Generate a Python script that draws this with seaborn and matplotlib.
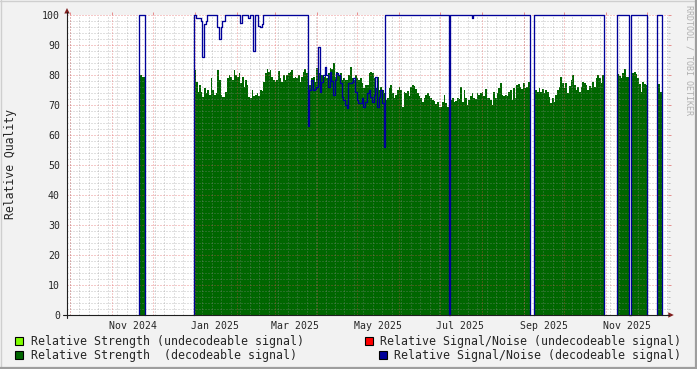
import numpy as np
import pandas as pd
import matplotlib
matplotlib.use("Agg")
import matplotlib.pyplot as plt
import matplotlib.dates as mdates
from matplotlib.patches import Rectangle, Polygon
from matplotlib.lines import Line2D
import seaborn as sns

# ---------------- data ----------------
block_start = ["2024-11-21 02:00", "2024-12-31 14:00", "2025-02-10 19:00", "2025-03-25 10:00",
               "2025-05-21 19:00", "2025-07-27 02:00", "2025-09-08 05:00", "2025-11-09 05:00",
               "2025-12-08 19:00"]
block_end = ["2024-11-25 05:00", "2025-02-10 19:00", "2025-03-25 10:00", "2025-05-21 19:00",
             "2025-07-27 02:00", "2025-09-05 10:00", "2025-10-30 10:00", "2025-12-01 10:00",
             "2025-12-12 02:00"]

strength_nov24 = [80, 80, 79.5, 79.5]
snr_nov24 = [100, 100, 100, 100]

strength_jan25 = [81.7, 77.8, 74.4, 76.7, 74.4, 72.8, 75.6, 73.9, 75, 73.3, 78.9, 75, 73.3, 73.9,
                  81.7, 78.3, 73.3, 72.8, 72.8, 74.4, 78.9, 80, 79.4, 78.3, 81.7, 80, 79.4, 80.6,
                  77.2, 79.4, 76.1, 78.3, 76.7, 72.8]
snr_jan25 = [100, 99, 99, 99, 98, 86, 97, 98, 100, 100, 100, 100, 100, 100, 96, 92, 96, 98, 98,
             100, 100, 100, 100, 100, 100, 100, 100, 100, 97.5, 100, 100, 100, 100, 99]

strength_feb25 = [72.5, 75, 73, 73.3, 73.9, 73, 75, 74.8, 77.8, 80.6, 81.9, 81.1, 81.7, 79.4, 78.3,
                  77.8, 78.3, 81.4, 78.9, 77.8, 80, 78.3, 80, 80.6, 81.1, 81.7, 78.9, 79.4, 78.9,
                  80, 77.8, 79.4, 81.1, 81.9, 80.6]
snr_feb25 = [100, 100, 88, 100, 100, 96.5, 96, 97, 100, 100, 100, 100, 100, 100, 100, 100, 100,
             100, 100, 100, 100, 100, 100, 100, 100, 100, 100, 100, 100, 100, 100, 100, 100, 100, 100]

strength_apr25 = [80, 76.7, 78.9, 79.4, 77.8, 82.2, 80.6, 78.9, 80, 79.4, 81.7, 78.9, 80.6, 82.2,
                  81.9, 83.9, 79.4, 81.1, 79.7, 80.6, 78.3, 78.9, 78.3, 78.3, 80, 82.8, 78.9, 78.3,
                  80, 78.9, 78.3, 78.9, 77.2, 75.6, 76.7, 76.7, 80.6, 81.1, 80.6, 78.9, 75.6, 79.4,
                  75, 76.1, 75, 73.9]
snr_apr25 = [63, 75, 78.3, 75, 75.5, 76, 89.2, 74.4, 77.8, 80, 82.8, 80, 76.1, 81.1, 78, 73.3, 78.3,
             80.6, 80, 77.2, 72.8, 71.7, 70, 68.9, 77.2, 77.2, 77.8, 78.9, 74.4, 71.7, 70.6, 70.6,
             72.2, 69.4, 71.1, 73.9, 75, 72.8, 71.1, 73.3, 79.4, 69.4, 72.8, 75, 70.6, 56]

strength_jun25 = [71.7, 72.2, 75.6, 76.7, 73.9, 72.5, 73.3, 75, 75.9, 75, 69.4, 74.4, 73.9, 74.8, 73,
                  76.1, 76.7, 76.3, 75.2, 74.1, 73, 72.5, 71.1, 72.2, 73.3, 74.1, 73, 72.5, 71.7,
                  71.4, 70.3, 71.1, 69.4, 69.2, 71.1, 73.3, 70.6, 69.4, 0, 71.7, 72.5, 71.1, 71.4,
                  72.5, 71.9, 75.9, 71.1, 75, 72.2, 70, 71.7, 73, 73.9, 72.2]
snr_jun25 = [100, 100, 100, 100, 100, 100, 100, 100, 100, 100, 100, 100, 100, 100, 100, 100, 100,
             100, 100, 100, 100, 100, 100, 100, 100, 100, 100, 100, 100, 100, 100, 100, 100, 100,
             100, 100, 100, 100, 0, 100, 100, 100, 100, 100, 100, 100, 100, 100, 100, 100, 100, 100,
             99, 100]

strength_aug25 = [71.9, 73.9, 73.3, 73.9, 74.4, 73, 75.2, 72.5, 72.2, 71.7, 70, 74.4, 72.2, 73.9,
                  75.6, 77.2, 73.3, 73, 73.3, 73, 74.4, 75, 71.7, 75.6, 72.5, 76.7, 77, 76.1, 75.2,
                  77.5, 75.6, 76.1, 77.8]
snr_aug25 = [100, 100, 100, 100, 100, 100, 100, 100, 100, 100, 100, 100, 100, 100, 100, 100, 100,
             100, 100, 100, 100, 100, 100, 100, 100, 100, 100, 100, 100, 100, 100, 100, 100]

strength_sep25 = [75.9, 75, 74.4, 75.6, 74.4, 75.2, 73.9, 75, 74.4, 72.8, 70.6, 72.5, 71.1, 73.3, 75,
                  76.1, 79.4, 77.2, 75.6, 77.2, 73.9, 76.3, 78.3, 80, 76.7, 75, 76.1, 74.4, 75.9,
                  77.8, 77.2, 76.7, 75, 76.3, 75.6, 77.8, 75.9, 78.9, 80, 78.9, 77.2, 80]
snr_sep25 = [100, 100, 100, 100, 100, 100, 100, 100, 100, 100, 100, 100, 100, 100, 100, 100, 100,
             100, 100, 100, 100, 100, 100, 100, 100, 100, 100, 100, 100, 100, 100, 100, 100, 100,
             100, 100, 100, 100, 100, 100, 100, 100]

strength_nov25 = [80.3, 79.7, 78.9, 80.6, 81.9, 79.4, 79.4, 0, 81.1, 80.6, 81.1, 80.3, 78.9, 77, 74.4,
                  77.8, 77, 76.7]
snr_nov25 = [100, 100, 100, 100, 100, 100, 100, 0, 100, 100, 100, 100, 100, 100, 100, 100, 100, 100]

strength_dec25 = [77, 77, 74.5]
snr_dec25 = [100, 100, 100]

x_start, x_end = "2024-09-28 12:40", "2025-12-16 14:00"
label_months = ["2024-11-01", "2025-01-01", "2025-03-01", "2025-05-01", "2025-07-01",
                "2025-09-01", "2025-11-01"]
label_texts = ["Nov 2024", "Jan 2025", "Mar 2025", "May 2025", "Jul 2025", "Sep 2025", "Nov 2025"]
y_ticks = [0, 10, 20, 30, 40, 50, 60, 70, 80, 90, 100]

legend_left = ["Relative Strength (undecodeable signal)", "Relative Strength  (decodeable signal)"]
legend_right = ["Relative Signal/Noise (undecodeable signal)", "Relative Signal/Noise (decodeable signal)"]

# ---------------- style ----------------
W, H = 697, 369
GREEN, LGREEN, RED, NAVY = "#006600", "#80FF00", "#FF0000", "#000099"
GRID = (0.56, 0.56, 0.56, 0.55)
MGRID = (0.87, 0.31, 0.31, 0.60)
ARROW = (0.50, 0.12, 0.12)
AXIS = (0.12, 0.12, 0.12)

sns.set_style("white")
plt.rcParams["font.family"] = ["DejaVu Sans Mono", "DejaVu Sans"]


def num(s):
    return mdates.date2num(pd.Timestamp(s))


def fx(x):
    return x / W


def fy(y):
    return 1 - y / H


fig = plt.figure(figsize=(W / 100, H / 100), dpi=100, facecolor="#F2F2F2")
ax = fig.add_axes([fx(67), fy(315), 601 / W, 300 / H])
ax.set_facecolor("white")

blocks = list(zip(block_start, block_end,
                  [strength_nov24, strength_jan25, strength_feb25, strength_apr25, strength_jun25,
                   strength_aug25, strength_sep25, strength_nov25, strength_dec25],
                  [snr_nov24, snr_jan25, snr_feb25, snr_apr25, snr_jun25, snr_aug25, snr_sep25,
                   snr_nov25, snr_dec25]))

segs = []
for s, e, st, sn in blocks:
    s_n, e_n = num(s), num(e)
    left = np.linspace(s_n, e_n, len(st) + 1)[:-1]
    if segs and abs(segs[-1]["end"] - s_n) < 1e-6:
        g = segs[-1]
    else:
        g = {"left": [], "st": [], "sn": []}
        segs.append(g)
    g["left"] += list(left)
    g["st"] += list(st)
    g["sn"] += list(sn)
    g["end"] = e_n

for g in segs:
    xe = np.r_[g["left"], g["end"]]
    ys = np.r_[g["st"], g["st"][-1]]
    ax.fill_between(xe, ys, 0, step="post", color=GREEN, lw=0, zorder=2)

rows = []
for i, g in enumerate(segs):
    xs = [g["left"][0]] + list(g["left"]) + [g["end"], g["end"]]
    ys = [0] + list(g["sn"]) + [g["sn"][-1], 0]
    rows += [(i, x, y) for x, y in zip(xs, ys)]
df = pd.DataFrame(rows, columns=["seg", "t", "snr"])
sns.lineplot(data=df, x="t", y="snr", units="seg", estimator=None, sort=False,
             drawstyle="steps-post", color=NAVY, lw=0.95, ax=ax, legend=False,
             zorder=4, clip_on=False)

x0, x1 = num(x_start), num(x_end)
ax.set_xlim(x0, x1)
ax.set_ylim(0, 100)

# grid (dotted, drawn over the area like rrdtool)
for v in np.arange(2, 101, 2):
    c = MGRID if v % 10 == 0 else GRID
    ax.axhline(v, color=c, lw=0.72, dashes=(1, 2), zorder=3)
weeks = pd.date_range(x_start, x_end, freq="W-MON")
months = pd.date_range(pd.Timestamp(x_start).normalize(), x_end, freq="MS")
for w in weeks:
    ax.axvline(mdates.date2num(w), color=GRID, lw=0.72, dashes=(1, 2), zorder=3)
for m in months:
    ax.axvline(mdates.date2num(m), color=MGRID, lw=0.72, dashes=(1, 2), zorder=3)

# ticks
ax.set_xticks([num(m) + 15 for m in label_months], labels=label_texts)
ax.set_xticks([mdates.date2num(m) for m in months], minor=True)
ax.tick_params(axis="x", which="major", length=0, pad=4.6, labelsize=7.1)
ax.tick_params(axis="x", which="minor", length=2.2, width=0.72, color=MGRID, top=True,
               direction="out")
ax.set_yticks(y_ticks)
ax.set_yticks(np.arange(0, 101, 2), minor=True)
ax.tick_params(axis="y", which="major", length=2.2, width=0.72, color=MGRID, pad=2.9,
               labelsize=7.1, right=True, direction="out")
ax.tick_params(axis="y", which="minor", length=1.5, width=0.72, color=GRID, right=True,
               direction="out")
ax.set_xlabel("")
ax.set_ylabel("")
for sp in ax.spines.values():
    sp.set_visible(False)

# axes lines with arrows
fig.add_artist(Line2D([fx(67), fx(67)], [fy(318), fy(12)], color=AXIS, lw=0.8))
fig.add_artist(Line2D([fx(63), fx(669)], [fy(315), fy(315)], color=AXIS, lw=0.8))
fig.add_artist(Polygon([[fx(64.3), fy(13.5)], [fx(69.7), fy(13.5)], [fx(67), fy(8)]],
                       closed=True, color=ARROW, lw=0))
fig.add_artist(Polygon([[fx(668.3), fy(312.3)], [fx(668.3), fy(317.7)], [fx(673.8), fy(315)]],
                       closed=True, color=ARROW, lw=0))

# texts
fig.text(fx(11), fy(164), "Relative Quality", rotation=90, fontsize=8.3, ha="center",
         va="center")
fig.text(fx(688.5), fy(60), "RRDTOOL / TOBI OETIKER", rotation=270, fontsize=6.0,
         ha="center", va="center", color="#B0B0B0")

# legend
rows_y = [341, 355]
left_cols = [LGREEN, GREEN]
right_cols = [RED, NAVY]
for yy, txt, col in zip(rows_y, legend_left, left_cols):
    fig.add_artist(Rectangle((fx(15), fy(yy + 4)), 8 / W, 8 / H, facecolor=col,
                             edgecolor="black", lw=0.8))
    fig.text(fx(30.5), fy(yy), txt, fontsize=8.4, ha="left", va="center")
fig.canvas.draw()
renderer = fig.canvas.get_renderer()
for yy, txt, col in zip(rows_y, legend_right, right_cols):
    t = fig.text(fx(680.5), fy(yy), txt, fontsize=8.4, ha="right", va="center")
    bb = t.get_window_extent(renderer)
    left_px = bb.x0
    fig.add_artist(Rectangle((fx(left_px - 14.5), fy(yy + 4)), 8 / W, 8 / H, facecolor=col,
                             edgecolor="black", lw=0.8))

# frame shading
fig.add_artist(Line2D([0, 1], [fy(0.6), fy(0.6)], color="#CFCFCF", lw=1.0))
fig.add_artist(Line2D([fx(0.6), fx(0.6)], [0, 1], color="#CFCFCF", lw=1.0))
fig.add_artist(Line2D([0, 1], [fy(367.8), fy(367.8)], color="#9E9E9E", lw=1.6))
fig.add_artist(Line2D([fx(695.8), fx(695.8)], [0, 1], color="#9E9E9E", lw=1.6))

fig.savefig("out.png", dpi=100, facecolor=fig.get_facecolor())
